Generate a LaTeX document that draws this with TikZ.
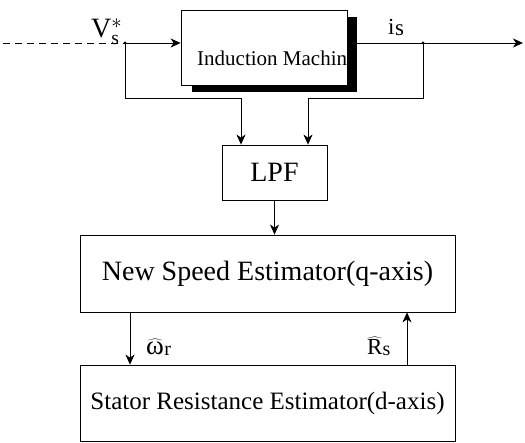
\documentclass[tikz,border=0pt]{standalone}
\usepackage{fontspec}
\setmainfont{Liberation Serif}
\usetikzlibrary{arrows.meta, positioning}

\newcommand\fsz[1]{\fontsize{#1}{#1}\selectfont}

\begin{document}
\begin{tikzpicture}[
  x=1pt, y=-1pt,
  block/.style={rectangle, draw, line width=0.8pt, inner sep=0pt},
  wire/.style={line width=0.8pt},
  arr/.style={-{Stealth[length=10pt, width=9pt, inset=3pt]}, line width=0.8pt},
  lbl/.style={inner sep=0pt, anchor=base west},
]
\useasboundingbox (0,0) rectangle (525,443);

% ── Blocs ────────────────────────────────────────────────────────────
\node[block, minimum width=166pt, minimum height=75pt] (machine) at (264,47.5) {};
\node[block, minimum width=105pt, minimum height=55pt, font=\fsz{28}] (lpf) at (274.5,172.5) {LPF};
\node[block, minimum width=375pt, minimum height=77pt, font=\fsz{28}] (nse) at (267.5,273.5) {New Speed Estimator(q-axis)};
\node[block, minimum width=375pt, minimum height=76pt, font=\fsz{25}] (sre) at (267.5,403) {Stator Resistance Estimator(d-axis)};

% texte de la machine (caché en partie par l'ombre)
\node[lbl, font=\fsz{21}] (mtext) at (197,66) {Induction Machine};

% ── Points de repère ─────────────────────────────────────────────────
\coordinate (vin)  at (3,43);
\coordinate (vtap) at (125,43);
\coordinate (itap) at (423,43);
\coordinate (iout) at (523,43);
\coordinate (fby)  at (0,98);
\coordinate (lfx)  at (241,0);
\coordinate (rfx)  at (308,0);
\coordinate (wx)   at (130,0);
\coordinate (rx)   at (407,0);

% ── Entrée / sortie ──────────────────────────────────────────────────
\draw[wire, dash pattern=on 7pt off 5pt] (vin) -- (vtap);
\draw[arr] (vtap) -- (vtap -| machine.west);
\draw[arr] (machine.east |- itap) -- (iout);

% ombre de la machine
\fill ([yshift=-7pt]machine.north east) rectangle ([xshift=10pt,yshift=-7pt]machine.south east);
\fill ([xshift=11pt]machine.south west) rectangle ([xshift=10pt,yshift=-7pt]machine.south east);

% ── Retours vers le LPF ──────────────────────────────────────────────
\draw[arr] (vtap) -- (vtap |- fby) -| (lpf.north -| lfx);
\draw[arr] (itap) -- (itap |- fby) -| (lpf.north -| rfx);
\fill (vtap) circle (1.5pt);
\fill (itap) circle (1.5pt);

% ── LPF → estimateurs ────────────────────────────────────────────────
\draw[arr] (lpf.south) -- (lpf.south |- nse.north);
\draw[arr] (nse.south -| wx) -- (sre.north -| wx);
\draw[arr] (sre.north -| rx) -- (nse.south -| rx);

% ── Étiquettes ───────────────────────────────────────────────────────
\node[lbl, font=\fsz{28}] (vs) at (91,38) {V$_{\mathrm{s}}^{*}$};
\node[lbl, font=\fsz{23}] (is) at (388,35) {i\kern0.5pt\raisebox{-1pt}{s}};
\node[lbl, font=\fsz{27}] (wr) at (146,355) {$\widehat{\hbox{ω}}$\kern0.5pt\raisebox{-1pt}{\fsz{20}r}};
\node[lbl, font=\fsz{23}] (rs) at (367,355) {$\widehat{\hbox{R}}$\raisebox{-1pt}{\fsz{20}s}};

\end{tikzpicture}
\end{document}
